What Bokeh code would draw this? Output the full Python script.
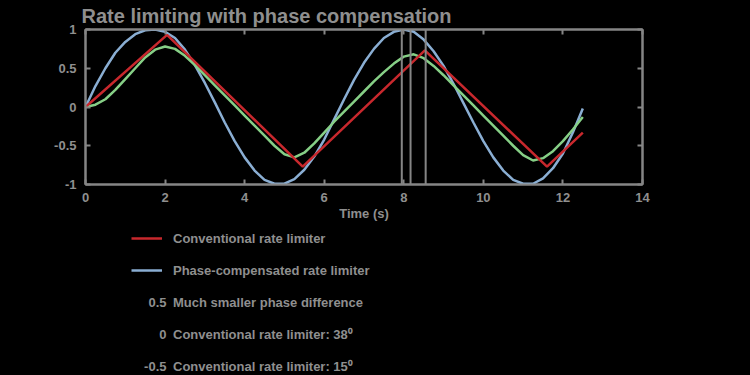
from bokeh.plotting import figure
from bokeh.layouts import column
from bokeh.models import Range1d, LinearAxis, FixedTicker, Span, Label, Legend, LegendItem
from bokeh.embed import file_html
from bokeh.resources import INLINE

# ---------------- data ----------------
title_text = "Rate limiting with phase compensation"
x_label = "Time (s)"

time_s = [0, 0.25, 0.5, 0.75, 1.0, 1.25, 1.5, 1.75, 2.0, 2.25, 2.5, 2.75, 3.0, 3.25, 3.5,
          3.75, 4.0, 4.25, 4.5, 4.75, 5.0, 5.25, 5.5, 5.75, 6.0, 6.25, 6.5, 6.75, 7.0, 7.25,
          7.5, 7.75, 8.0, 8.25, 8.5, 8.75, 9.0, 9.25, 9.5, 9.75, 10.0, 10.25, 10.5, 10.75,
          11.0, 11.25, 11.5, 11.75, 12.0, 12.25, 12.5]

phase_compensated = [0, 0.27, 0.50, 0.70, 0.84, 0.94, 0.99, 1.0, 0.97, 0.89, 0.74, 0.54, 0.31,
                     0.06, -0.20, -0.44, -0.65, -0.82, -0.94, -0.99, -0.99, -0.93, -0.81, -0.64,
                     -0.42, -0.16, 0.10, 0.35, 0.57, 0.75, 0.89, 0.97, 1.0, 0.97, 0.87, 0.72,
                     0.53, 0.30, 0.05, -0.20, -0.44, -0.65, -0.82, -0.94, -0.99, -0.99, -0.92,
                     -0.79, -0.60, -0.33, -0.02]

smoothed_response = [0, 0.03, 0.10, 0.22, 0.36, 0.50, 0.64, 0.74, 0.78, 0.75, 0.66, 0.54, 0.41,
                     0.28, 0.15, 0.02, -0.11, -0.24, -0.37, -0.50, -0.61, -0.65, -0.59, -0.47,
                     -0.33, -0.19, -0.06, 0.07, 0.20, 0.33, 0.45, 0.56, 0.65, 0.68, 0.63, 0.53,
                     0.41, 0.28, 0.15, 0.02, -0.11, -0.24, -0.37, -0.50, -0.62, -0.69, -0.66,
                     -0.57, -0.44, -0.29, -0.13]

conventional_t = [0, 2.05, 5.46, 8.53, 11.6, 12.5]
conventional = [0, 0.93, -0.77, 0.73, -0.77, -0.33]

peak_times = [7.95, 8.17, 8.55]

x_ticks = [0, 2, 4, 6, 8, 10, 12, 14]
y_ticks = [-1, -0.5, 0, 0.5, 1]
y_tick_labels = ["-1", "-0.5", "0", "0.5", "1"]

legend_labels = ["Conventional rate limiter",
                 "Phase-compensated rate limiter",
                 "Much smaller phase difference",
                 "Conventional rate limiter: 38\u2070",
                 "Conventional rate limiter: 15\u2070"]
legend_values = ["0.5", "0", "-0.5"]

# ---------------- style ----------------
GRAY = "#858585"
TXT = "#8f8f8f"
RED = "#c8282d"
BLUE = "#8aaed3"
GREEN = "#86cf86"
FONT = "Liberation Sans"

p = figure(width=750, height=226, x_range=Range1d(0, 14), y_range=Range1d(-1, 1),
           output_backend="svg", toolbar_location=None,
           min_border_left=85, min_border_right=108, min_border_top=29, min_border_bottom=42,
           background_fill_color="black", border_fill_color="black",
           outline_line_color=GRAY, outline_line_width=2)
p.grid.visible = False

p.title.text = title_text
p.title.align = "left"
p.title.offset = -4
p.title.standoff = 5
p.title.text_color = TXT
p.title.text_font = FONT
p.title.text_font_size = "20px"
p.title.text_font_style = "bold"

bottom_axis = p.below[0]
left_axis = p.left[0]
bottom_axis.ticker = FixedTicker(ticks=x_ticks)
left_axis.ticker = FixedTicker(ticks=y_ticks)
left_axis.major_label_overrides = {t: l for t, l in zip(y_ticks, y_tick_labels)}
bottom_axis.axis_label = x_label

# mirrored tick marks on top and right (labels not painted)
top_axis = LinearAxis(ticker=FixedTicker(ticks=x_ticks), major_label_text_font_size="1px",
                      major_label_standoff=0)
right_axis = LinearAxis(ticker=FixedTicker(ticks=y_ticks), major_label_text_font_size="1px",
                        major_label_standoff=0)
p.add_layout(top_axis, "above")
p.add_layout(right_axis, "right")

for ax in [bottom_axis, left_axis, top_axis, right_axis]:
    ax.axis_line_color = GRAY
    ax.axis_line_width = 2
    ax.major_tick_line_color = GRAY
    ax.major_tick_line_width = 2
    ax.major_tick_in = 5
    ax.major_tick_out = 0
    ax.minor_tick_line_color = None
    ax.major_label_text_color = TXT
    ax.major_label_text_font = FONT
    ax.major_label_text_font_style = "bold"

top_axis.major_label_text_color = None
right_axis.major_label_text_color = None

for ax in [bottom_axis, left_axis]:
    ax.major_label_text_font_size = "13px"
bottom_axis.major_label_standoff = 8
left_axis.major_label_standoff = 9
bottom_axis.axis_label_text_color = TXT
bottom_axis.axis_label_text_font = FONT
bottom_axis.axis_label_text_font_style = "bold"
bottom_axis.axis_label_text_font_size = "13px"
bottom_axis.axis_label_standoff = 1

for t in peak_times:
    p.add_layout(Span(location=t, dimension="height", line_color=GRAY, line_width=2))

p.line(time_s, phase_compensated, line_color=BLUE, line_width=2.5)
p.line(time_s, smoothed_response, line_color=GREEN, line_width=2.5)
p.line(conventional_t, conventional, line_color=RED, line_width=2.5)

# ---------------- legend area (frame aligned with the plot frame) ----------------
leg = figure(width=750, height=149, x_range=Range1d(0, 557), y_range=Range1d(0, 149),
             output_backend="svg", toolbar_location=None,
             min_border_left=85, min_border_right=108, min_border_top=0, min_border_bottom=0,
             background_fill_color="black", border_fill_color="black",
             outline_line_color=None)
leg.axis.visible = False
leg.grid.visible = False

# legend proxies: single points draw no visible line
l_red = leg.line(x=conventional_t[:1], y=conventional[:1], line_color=RED, line_width=2.5)
l_blue = leg.line(x=time_s[:1], y=phase_compensated[:1], line_color=BLUE, line_width=2.5)

items = [LegendItem(label=legend_labels[0], renderers=[l_red]),
         LegendItem(label=legend_labels[1], renderers=[l_blue])]
for lab in legend_labels[2:]:
    items.append(LegendItem(label=lab, renderers=[]))

legend = Legend(items=items, location=(46, 0), orientation="vertical",
                padding=0, spacing=14, margin=0,
                glyph_width=31, glyph_height=18, label_height=18, label_standoff=11,
                label_text_font=FONT, label_text_font_size="13px",
                label_text_font_style="bold", label_text_color=TXT,
                background_fill_alpha=0, border_line_color=None)
leg.add_layout(legend)

for i, v in enumerate(legend_values):
    leg.add_layout(Label(x=81, y=73 - 32 * i, text=v,
                         text_align="right", text_baseline="middle", text_color=TXT,
                         text_font=FONT, text_font_size="13px", text_font_style="bold"))

layout = column(p, leg, spacing=0)

html = file_html(layout, INLINE)
html = html.replace("</head>", "<style>html,body{background-color:#000000;}</style></head>", 1)
open("out.html", "w").write(html)
